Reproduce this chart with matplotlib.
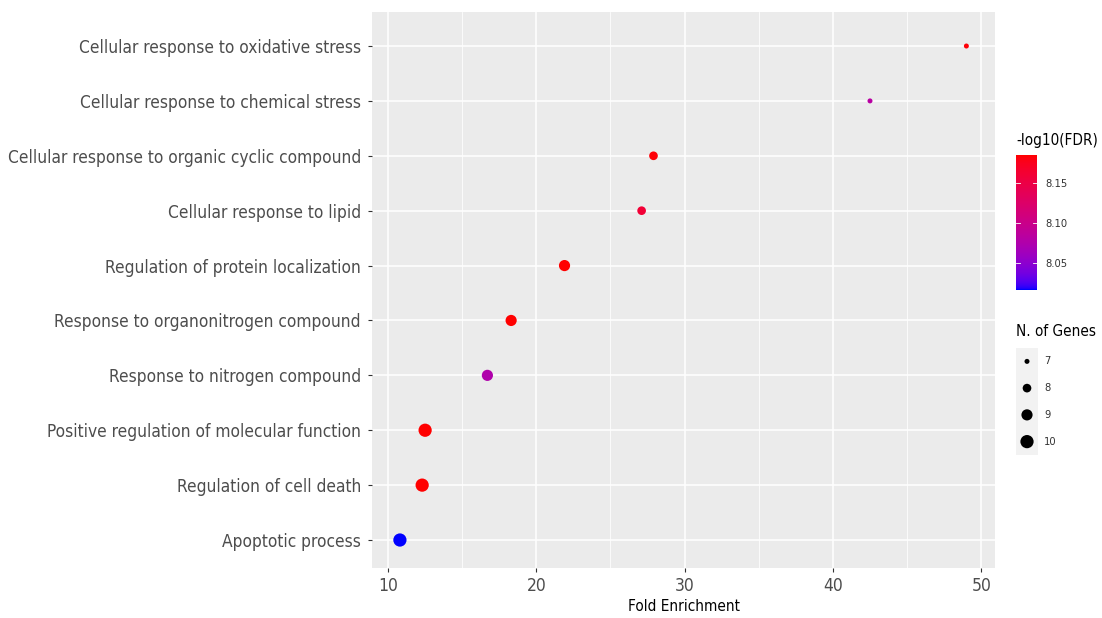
import numpy as np
import matplotlib
matplotlib.use("Agg")
import matplotlib.pyplot as plt
from matplotlib.colors import ListedColormap, Normalize

# pathway terms, bottom to top
terms = [
    "Apoptotic process",
    "Regulation of cell death",
    "Positive regulation of molecular function",
    "Response to nitrogen compound",
    "Response to organonitrogen compound",
    "Regulation of protein localization",
    "Cellular response to lipid",
    "Cellular response to organic cyclic compound",
    "Cellular response to chemical stress",
    "Cellular response to oxidative stress",
]
fold_enrichment = [10.8, 12.3, 12.5, 16.7, 18.3, 21.9, 27.1, 27.9, 42.5, 49.0]
n_genes = [10, 10, 10, 9, 9, 9, 8, 8, 7, 7]
neg_log_fdr = [8.016, 8.185, 8.185, 8.075, 8.185, 8.185, 8.160, 8.183, 8.082, 8.183]

size_levels = [7, 8, 9, 10]
cbar_ticks = [8.05, 8.10, 8.15]

plt.rcParams["font.family"] = "DejaVu Sans"
plt.rcParams["font.stretch"] = "condensed"


# blue -> red gradient interpolated in Lab space (like ggplot's scale_colour_gradient)
def srgb_to_lab(rgb):
    c = np.asarray(rgb, float)
    c = np.where(c > 0.04045, ((c + 0.055) / 1.055) ** 2.4, c / 12.92)
    m = np.array([[0.4124, 0.3576, 0.1805], [0.2126, 0.7152, 0.0722], [0.0193, 0.1192, 0.9505]])
    xyz = m @ c / np.array([0.95047, 1.0, 1.08883])
    f = np.where(xyz > 0.008856, np.cbrt(xyz), 7.787 * xyz + 16 / 116)
    return np.array([116 * f[1] - 16, 500 * (f[0] - f[1]), 200 * (f[1] - f[2])])


def lab_to_srgb(lab):
    fy = (lab[0] + 16) / 116
    fx = fy + lab[1] / 500
    fz = fy - lab[2] / 200
    f = np.array([fx, fy, fz])
    xyz = np.where(f ** 3 > 0.008856, f ** 3, (f - 16 / 116) / 7.787) * np.array([0.95047, 1.0, 1.08883])
    minv = np.array([[3.2406, -1.5372, -0.4986], [-0.9689, 1.8758, 0.0415], [0.0557, -0.2040, 1.0570]])
    c = minv @ xyz
    c = np.where(c > 0.0031308, 1.055 * np.clip(c, 0, None) ** (1 / 2.4) - 0.055, 12.92 * c)
    return np.clip(c, 0, 1)


lab_lo = srgb_to_lab([0, 0, 1])
lab_hi = srgb_to_lab([1, 0, 0])
cmap = ListedColormap([lab_to_srgb(lab_lo + (lab_hi - lab_lo) * t) for t in np.linspace(0, 1, 256)])
norm = Normalize(vmin=min(neg_log_fdr), vmax=max(neg_log_fdr))


def pt_size(n):
    d_px = np.sqrt(25 + (np.asarray(n) - 7) * 50)
    return (d_px * 0.72) ** 2


fig = plt.figure(figsize=(11.02, 6.18), dpi=100)
ax = fig.add_axes([0.3376, 0.0809, 0.5653, 0.8997])
ax.set_facecolor("#EBEBEB")

y = np.arange(1, len(terms) + 1)
ax.scatter(fold_enrichment, y, s=pt_size(n_genes), c=neg_log_fdr, cmap=cmap,
           norm=norm, zorder=3, linewidths=0)

ax.set_xlim(8.92, 50.93)
ax.set_ylim(0.49, 10.62)
ax.set_xticks([10, 20, 30, 40, 50])
ax.set_xticks([15, 25, 35, 45], minor=True)
ax.set_yticks(y)
ax.set_yticklabels(terms)
ax.grid(which="major", color="white", linewidth=1.1)
ax.grid(which="minor", axis="x", color="white", linewidth=0.55)
ax.set_axisbelow(True)
for s in ax.spines.values():
    s.set_visible(False)
ax.tick_params(axis="both", which="major", colors="#333333", length=3)
ax.tick_params(axis="y", labelsize=12.4, labelcolor="#4D4D4D", pad=5)
ax.tick_params(axis="x", labelsize=12.5, labelcolor="#4D4D4D")
ax.tick_params(axis="x", which="minor", length=0)
ax.set_xlabel("Fold Enrichment", fontsize=11, labelpad=3)

# colour bar
cax = fig.add_axes([1016 / 1102, 1 - 290 / 618, 21 / 1102, 135 / 618])
cb = fig.colorbar(plt.cm.ScalarMappable(norm=norm, cmap=cmap), cax=cax)
cb.outline.set_visible(False)
cb.set_ticks(cbar_ticks)
cb.ax.tick_params(labelsize=8, length=0, pad=6, labelcolor="#333333")
for t in cbar_ticks:
    cax.plot([0, 0.2], [t, t], color="white", lw=0.6, transform=cax.get_yaxis_transform())
    cax.plot([0.8, 1], [t, t], color="white", lw=0.6, transform=cax.get_yaxis_transform())
fig.text(1016 / 1102, 1 - 140 / 618, "-log10(FDR)", fontsize=11, va="center", ha="left")

# size legend
lax = fig.add_axes([1016 / 1102, 1 - 455 / 618, 22 / 1102, 107 / 618])
lax.set_facecolor("#F2F2F2")
lax.scatter([0] * len(size_levels), size_levels[::-1], s=pt_size(size_levels), color="black",
            linewidths=0)
lax.set_xlim(-1, 1)
lax.set_ylim(6.5, 10.5)
lax.set_xticks([])
lax.set_yticks([])
for s in lax.spines.values():
    s.set_visible(False)
for lvl, yy in zip(size_levels, size_levels[::-1]):
    lax.text(1.55, yy, str(lvl), fontsize=8, va="center", ha="left", color="#333333",
             transform=lax.transData, clip_on=False)
fig.text(1016 / 1102, 1 - 332 / 618, "N. of Genes", fontsize=11, va="center", ha="left")

fig.savefig("out.png", dpi=100)
